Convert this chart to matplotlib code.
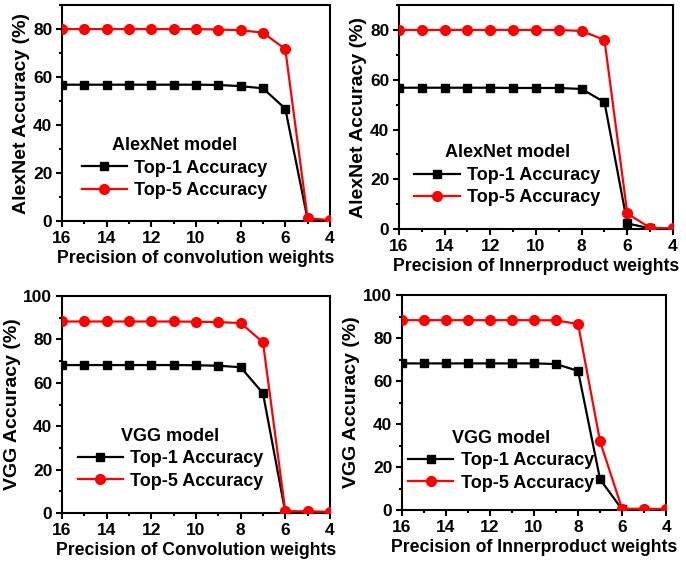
import matplotlib
matplotlib.use("Agg")
import matplotlib.pyplot as plt
from matplotlib.ticker import MultipleLocator

plt.rcParams['font.family'] = ['Liberation Sans', 'DejaVu Sans']
plt.rcParams['font.weight'] = 'bold'

bits = [16, 15, 14, 13, 12, 11, 10, 9, 8, 7, 6, 5, 4]

# AlexNet, convolution weights
alex_conv_top1 = [56.8, 56.8, 56.8, 56.8, 56.8, 56.8, 56.8, 56.7, 56.2, 55.3, 46.8, 0.6, 0.1]
alex_conv_top5 = [80.0, 80.0, 80.0, 80.0, 80.0, 80.0, 80.0, 79.8, 79.5, 78.5, 71.6, 1.1, 0.4]
# AlexNet, innerproduct weights
alex_ip_top1 = [56.8, 56.8, 56.8, 56.8, 56.8, 56.7, 56.7, 56.7, 56.3, 51.0, 2.3, 0.3, 0.1]
alex_ip_top5 = [80.0, 80.0, 80.0, 80.0, 80.0, 80.0, 80.0, 80.0, 79.6, 76.0, 6.3, 0.5, 0.3]
# VGG, convolution weights
vgg_conv_top1 = [68.2, 68.2, 68.2, 68.2, 68.2, 68.2, 68.1, 67.9, 67.2, 55.2, 0.3, 0.1, 0.1]
vgg_conv_top5 = [88.3, 88.3, 88.3, 88.3, 88.3, 88.3, 88.2, 88.0, 87.6, 78.7, 0.8, 0.7, 0.5]
# VGG, innerproduct weights
vgg_ip_top1 = [68.2, 68.2, 68.2, 68.2, 68.2, 68.2, 68.2, 67.9, 64.7, 14.3, 0.3, 0.1, 0.1]
vgg_ip_top5 = [88.3, 88.3, 88.3, 88.3, 88.3, 88.3, 88.3, 88.2, 86.5, 31.9, 0.6, 0.6, 0.5]

panels = [
    # rect, top1, top5, ylabel, xlabel, ymax, model, legend anchor
    ([0.0904, 0.6075, 0.3906, 0.3835], alex_conv_top1, alex_conv_top5,
     "AlexNet Accuracy (%)", "Precision of convolution weights", 90, "AlexNet model", (0.42, 0.245)),
    ([0.5816, 0.593, 0.3994, 0.398], alex_ip_top1, alex_ip_top5,
     "AlexNet Accuracy (%)", "Precision of Innerproduct weights", 90, "AlexNet model", (0.395, 0.24)),
    ([0.0904, 0.089, 0.3906, 0.385], vgg_conv_top1, vgg_conv_top5,
     "VGG Accuracy (%)", "Precision of Convolution weights", 100, "VGG model", (0.405, 0.25)),
    ([0.586, 0.094, 0.385, 0.382], vgg_ip_top1, vgg_ip_top5,
     "VGG Accuracy (%)", "Precision of Innerproduct weights", 100, "VGG model", (0.375, 0.23)),
]

fig = plt.figure(figsize=(6.86, 5.63), dpi=100)

for rect, top1, top5, ylab, xlab, ymax, model, anchor in panels:
    ax = fig.add_axes(rect)
    ax.plot(bits, top1, color='black', marker='s', markersize=6, linewidth=1.6,
            label='Top-1 Accuracy', zorder=3)
    ax.plot(bits, top5, color='red', marker='o', markersize=7, linewidth=1.6,
            label='Top-5 Accuracy', zorder=3)
    ax.set_xlim(16, 4)
    ax.set_ylim(0, ymax)
    ax.xaxis.set_major_locator(MultipleLocator(2))
    ax.xaxis.set_minor_locator(MultipleLocator(1))
    ax.yaxis.set_major_locator(MultipleLocator(20))
    ax.yaxis.set_minor_locator(MultipleLocator(10))
    ax.tick_params(which='both', direction='out', width=1.5)
    ax.tick_params(which='major', length=4, labelsize=12.5, pad=3)
    ax.tick_params(which='minor', length=2)
    for s in ax.spines.values():
        s.set_linewidth(1.5)
    ax.set_xlabel(xlab, fontsize=12.7, fontweight='bold', labelpad=3)
    ax.set_ylabel(ylab, fontsize=14, fontweight='bold', labelpad=2)
    ax.legend(title=model, loc='center', bbox_to_anchor=anchor, frameon=False,
              fontsize=13, title_fontproperties={'size': 13, 'weight': 'bold'},
              handlelength=2.5, labelspacing=0.3, handletextpad=0.4,
              borderpad=0.1)

fig.savefig("out.png", dpi=100)
